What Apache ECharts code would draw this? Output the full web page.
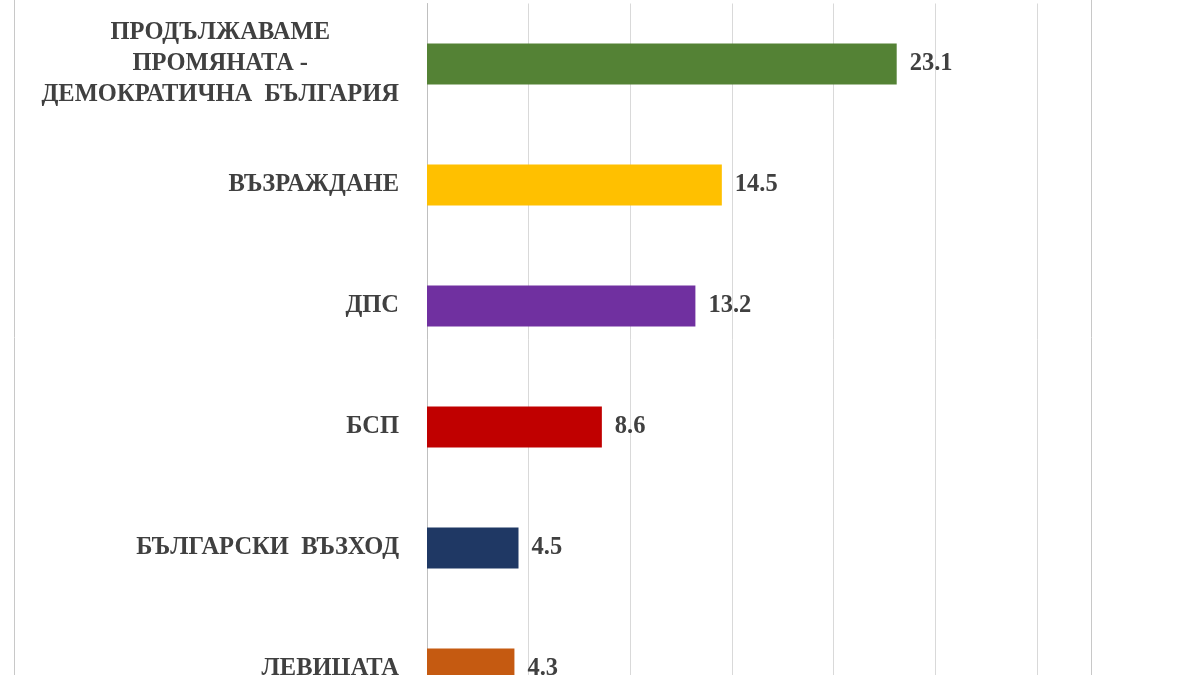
<!DOCTYPE html>
<html>
<head>
<meta charset="utf-8">
<script src="https://cdn.jsdelivr.net/npm/echarts@6/dist/echarts.min.js"></script>
<style>
html,body{margin:0;padding:0;background:#fff;}
#chart{width:1200px;height:675px;}
</style>
</head>
<body>
<div id="chart"></div>
<script>
const categories = [
  'ПРОДЪЛЖАВАМЕ\nПРОМЯНАТА -\nДЕМОКРАТИЧНА  БЪЛГАРИЯ',
  'ВЪЗРАЖДАНЕ',
  'ДПС',
  'БСП',
  'БЪЛГАРСКИ  ВЪЗХОД',
  'ЛЕВИЦАТА'
];
const values = [23.1, 14.5, 13.2, 8.6, 4.5, 4.3];
const barColors = ['#548235', '#FFC000', '#7030A0', '#C00000', '#1F3864', '#C55A11'];
const xTicks = [0, 5, 10, 15, 20, 25, 30];

const FONT = '"Liberation Serif", "Times New Roman", serif';
const TEXT = '#404040';

const chart = echarts.init(document.getElementById('chart'));
chart.setOption({
  backgroundColor: '#ffffff',
  animation: false,
  graphic: [{
    type: 'rect',
    shape: { x: 14.5, y: -10, width: 1077, height: 700 },
    style: { fill: 'none', stroke: '#c8c8c8', lineWidth: 1 },
    z: -1
  }],
  grid: { left: 427, width: 610, top: 3.5, height: 726, containLabel: false, outerBoundsMode: 'none' },
  xAxis: {
    type: 'value',
    min: xTicks[0],
    max: xTicks[xTicks.length - 1],
    interval: xTicks[1] - xTicks[0],
    axisLine: { show: false },
    axisTick: { show: false },
    axisLabel: { show: false },
    splitLine: { show: true, lineStyle: { color: '#d9d9d9', width: 1 } }
  },
  yAxis: {
    type: 'category',
    inverse: true,
    data: categories,
    axisLine: { show: true, lineStyle: { color: '#bfbfbf', width: 1 } },
    axisTick: { show: false },
    axisLabel: {
      margin: 28,
      formatter: function (v) {
        return v.split('\n').map(function (s) { return '{c|' + s + '}'; }).join('\n');
      },
      rich: {
        c: {
          fontFamily: FONT,
          fontWeight: 'bold',
          fontSize: 24.5,
          color: TEXT,
          align: 'center',
          lineHeight: 31
        }
      }
    }
  },
  series: [{
    type: 'bar',
    data: values.map(function (v, i) { return { value: v, itemStyle: { color: barColors[i] } }; }),
    barWidth: 41,
    label: {
      show: true,
      position: 'right',
      distance: 13,
      fontFamily: FONT,
      fontWeight: 'bold',
      fontSize: 24.5,
      color: TEXT,
      formatter: function (p) { return p.value.toFixed(1); }
    }
  }]
});
</script>
</body>
</html>
